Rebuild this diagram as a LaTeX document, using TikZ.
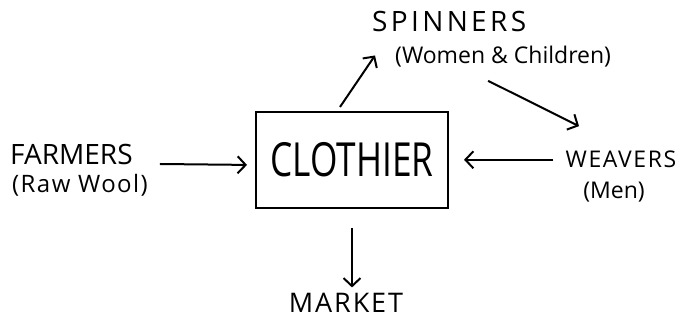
\documentclass[tikz,border=0pt]{standalone}
\usepackage{fontspec}
\setmainfont{Open Sans}
\newfontfamily\narrowfont[FakeStretch=0.75]{Open Sans}
\usetikzlibrary{arrows.meta, positioning, calc}

\begin{document}
\begin{tikzpicture}[
    x=1pt, y=1pt,
    >={Straight Barb[length=8pt,width=17pt]},
    group/.style={inner sep=0pt, font=\fontsize{28}{30}\selectfont},
    small/.style={group, font=\fontsize{23}{25}\selectfont\addfontfeatures{LetterSpace=7}},
    note/.style={inner sep=0pt, font=\fontsize{23}{25}\selectfont},
    box/.style={draw, line width=2pt, minimum width=192pt, minimum height=96pt, inner sep=0pt, font=\narrowfont\fontsize{47}{49}\selectfont},
    arrow/.style={->, line width=2pt}
  ]
    \useasboundingbox (0,0) rectangle (684,320);
    \node[box] (clothier) at (352,160) {CLOTHIER};
    \node[group, anchor=base west] (farmers) at (10,155) {FARMERS};
    \node[note, anchor=base west, font=\fontsize{24}{26}\selectfont\addfontfeatures{LetterSpace=6}] (farmersnote) at (12,127) {(Raw Wool)};
    \node[group, anchor=base west, font=\fontsize{28}{30}\selectfont\addfontfeatures{LetterSpace=12}] (spinners) at (372,288) {SPINNERS};
    \node[note, anchor=base west] (spinnersnote) at (395,256) {(Women \& Children)};
    \node[small, anchor=base] (weavers) at (621,152) {WEAVERS};
    \node[note, anchor=base] (weaversnote) at (614,121) {(Men)};
    \node[group, anchor=base, font=\fontsize{27}{29}\selectfont\addfontfeatures{LetterSpace=7}] (market) at (346,7) {MARKET};
    \draw[arrow, shorten >=8pt] ([shift={(27pt,-9pt)}]farmers.east) -- ([yshift=-5pt]clothier.west);
    \draw[arrow, shorten <=12pt, shorten >=15pt] (weavers.west) -- (clothier.east |- weavers.west);
    \draw[arrow] ([shift={(-12pt,4pt)}]clothier.north) -- ([shift={(3pt,-23pt)}]spinners.south west);
    \draw[arrow] ([shift={(-15pt,-13pt)}]spinnersnote.south) -- ([shift={(-42pt,25pt)}]weavers.north);
    \draw[arrow, shorten <=19pt, shorten >=6pt] (clothier.south) -- (clothier.south |- market.north);
  \end{tikzpicture}
\end{document}
